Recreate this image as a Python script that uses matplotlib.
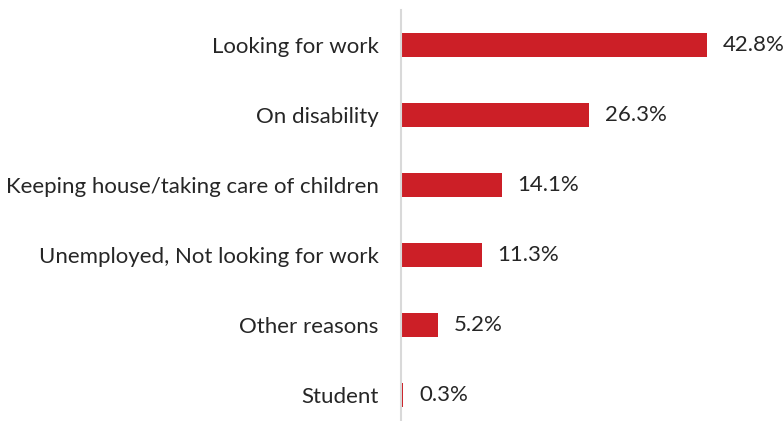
import matplotlib.pyplot as plt

# Reasons for not working (percent of respondents)
reasons = ["Looking for work", "On disability", "Keeping house/taking care of children",
           "Unemployed, Not looking for work", "Other reasons", "Student"]
shares = [42.8, 26.3, 14.1, 11.3, 5.2, 0.3]

bar_color = "#CC1F27"
font = ["Lato", "DejaVu Sans"]

fig = plt.figure(figsize=(7.84, 4.21), dpi=100)
# axes drawn from y=10px down past the bottom edge, left edge at the category axis
ax = fig.add_axes([401 / 784, -9 / 421, 357 / 784, 420 / 421])

pos = list(range(len(reasons)))
ax.barh(pos, shares, height=0.343, color=bar_color)
ax.set_ylim(len(reasons) - 0.5, -0.5)
ax.set_xlim(0, 50)

for y, v in zip(pos, shares):
    ax.annotate(f"{v}%", (v, y), xytext=(11.5, 0), textcoords="offset points",
                va="center", ha="left", fontsize=16, color="#262626", family=font)

ax.set_yticks(pos)
ax.set_yticklabels(reasons, fontsize=16, color="#262626", family=font)
ax.tick_params(axis="y", length=0, pad=16)
ax.set_xticks([])

for side in ["top", "right", "bottom"]:
    ax.spines[side].set_visible(False)
ax.spines["left"].set_color("#D9D9D9")
ax.spines["left"].set_linewidth(1.5)

fig.savefig("out.png", dpi=100)
